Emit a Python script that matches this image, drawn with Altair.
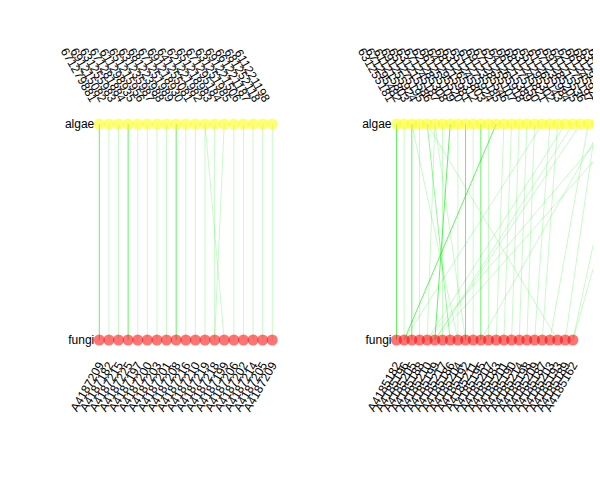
import altair as alt
import pandas as pd

# ---------------- data ----------------
left_algae = ["671279881", "691215082", "631255983", "671281884", "611298935", "651215956",
              "631235987", "681223988", "671251989", "691218930", "641255081", "621221982",
              "651218983", "671295184", "631251985", "691221506", "661221187", "681252118",
              "611221198"]
left_fungi = ["A4187209", "A4187182", "A4187215", "A4187225", "A4187197", "A4187200",
              "A4187203", "A4187201", "A4187208", "A4187216", "A4187210", "A4187219",
              "A4187218", "A4187199", "A4187206", "A4187202", "A4187214", "A4187205",
              "A4187209"]
left_edge_algae = [0, 1, 2, 3, 4, 5, 6, 7, 8, 9, 10, 11, 11, 12, 13, 14, 15, 16, 17, 18]
left_edge_fungi = [0, 1, 2, 3, 4, 5, 6, 7, 8, 9, 10, 11, 13, 12, 12, 14, 15, 16, 17, 18]
left_edge_weight = [3, 1, 1, 3, 1, 1, 1, 1, 3, 1, 1, 1, 1, 1, 1, 1, 1, 1, 1, 1]

right_algae = ["631255181", "671295482", "611215803", "691255924", "651275195", "631215586",
               "671245187", "621285308", "661255109", "641295520", "681215981", "631265312",
               "651245803", "611275924", "691235185", "671285546", "621255107", "641265918",
               "661215389", "681275150", "631245821", "651295302", "611265143", "671235984",
               "691285205", "641215536", "621275197", "661245928", "681295309", "631285150",
               "651265401", "611245982"]
right_fungi = ["A4185182", "A4185196", "A4185205", "A4185188", "A4185210", "A4185199",
               "A4185217", "A4185186", "A4185204", "A4185192", "A4185211", "A4185195",
               "A4185207", "A4185183", "A4185201", "A4185190", "A4185214", "A4185198",
               "A4185209", "A4185187", "A4185203", "A4185193", "A4185189", "A4185162"]
right_edge_algae = [0, 1, 2, 2, 3, 4, 4, 5, 5, 6, 7, 8, 9, 10, 11, 12, 13, 14, 15, 16,
                    17, 18, 19, 20, 21, 22, 23, 24, 25, 26, 27, 28, 29, 30, 31]
right_edge_fungi = [0, 1, 2, 8, 3, 7, 21, 4, 9, 6, 5, 8, 9, 10, 11, 12, 1, 13, 14, 15,
                    16, 17, 1, 18, 19, 4, 5, 5, 20, 22, 11, 4, 23, 5, 23]
right_edge_weight = [3, 1, 3, 1, 1, 2, 1, 1, 1, 1, 3, 1, 3, 1, 3, 1, 3, 1, 1, 1,
                     1, 1, 1, 1, 1, 1, 1, 1, 1, 1, 1, 1, 1, 1, 1]

Y_DOMAIN = [-0.6481, 1.5741]   # algae row at level 1, fungi row at level 0
FONT = "Liberation Sans"


def panel(algae, fungi, ea, ef, ew, first_px, step_px, width):
    d0 = -first_px / step_px
    d1 = d0 + width / step_px
    xs = alt.Scale(domain=[d0, d1], nice=False, zero=False)
    ys = alt.Scale(domain=Y_DOMAIN, nice=False, zero=False)

    nodes = pd.DataFrame({
        "i": list(range(len(algae))) + list(range(len(fungi))),
        "level": [1] * len(algae) + [0] * len(fungi),
        "group": ["algae"] * len(algae) + ["fungi"] * len(fungi),
        "label": algae + fungi,
    })
    edges = pd.DataFrame({"a": ea, "f": ef, "w": ew})
    groups = pd.DataFrame({"name": ["algae", "fungi"], "level": [1, 0]})

    lines = alt.Chart(edges).transform_calculate(
        ya="1", yf="0"
    ).mark_rule(clip=True, color="#00ee00", strokeWidth=1).encode(
        x=alt.X("a:Q", scale=xs, axis=None),
        x2="f:Q",
        y=alt.Y("ya:Q", scale=ys, axis=None),
        y2="yf:Q",
        opacity=alt.Opacity("w:Q", scale=alt.Scale(domain=[1, 3], range=[0.22, 0.62]),
                            legend=None),
    )

    circles = alt.Chart(nodes).mark_circle(clip=True, size=121, opacity=0.55).encode(
        x=alt.X("i:Q", scale=xs, axis=None),
        y=alt.Y("level:Q", scale=ys, axis=None),
        color=alt.Color("group:N",
                        scale=alt.Scale(domain=["algae", "fungi"], range=["#ffff00", "#ff0000"]),
                        legend=None),
    )

    top_labels = alt.Chart(nodes).transform_filter("datum.level == 1").transform_calculate(
        lx=f"datum.i - {5.5 / step_px}", ly="1.1065"
    ).mark_text(clip=True, angle=60, align="right", baseline="middle",
                fontSize=12, font=FONT, color="black").encode(
        x=alt.X("lx:Q", scale=xs, axis=None),
        y=alt.Y("ly:Q", scale=ys, axis=None),
        text="label:N",
    )

    bottom_labels = alt.Chart(nodes).transform_filter("datum.level == 0").transform_calculate(
        lx=f"datum.i + {1.5 / step_px}", ly="-0.1065"
    ).mark_text(clip=True, angle=300, align="right", baseline="middle",
                fontSize=12, font=FONT, color="black").encode(
        x=alt.X("lx:Q", scale=xs, axis=None),
        y=alt.Y("ly:Q", scale=ys, axis=None),
        text="label:N",
    )

    group_labels = alt.Chart(groups).transform_calculate(
        gx=f"{-5.0 / step_px}"
    ).mark_text(clip=True, align="right", baseline="middle",
                fontSize=12, font=FONT, color="black").encode(
        x=alt.X("gx:Q", scale=xs, axis=None),
        y=alt.Y("level:Q", scale=ys, axis=None),
        text="name:N",
    )

    return alt.layer(lines, circles, top_labels, bottom_labels, group_labels).properties(
        width=width, height=480
    )


left = panel(left_algae, left_fungi, left_edge_algae, left_edge_fungi, left_edge_weight,
             99.3, 9.61, 300)
right = panel(right_algae, right_fungi, right_edge_algae, right_edge_fungi, right_edge_weight,
              96.5, 7.67, 293)

chart = alt.hconcat(left, right, spacing=0, bounds="flush").properties(
    padding=0, background="white"
).configure_view(stroke=None).resolve_scale(x="independent", opacity="independent")

chart.save("out.html", embed_options={"renderer": "svg", "actions": False})
